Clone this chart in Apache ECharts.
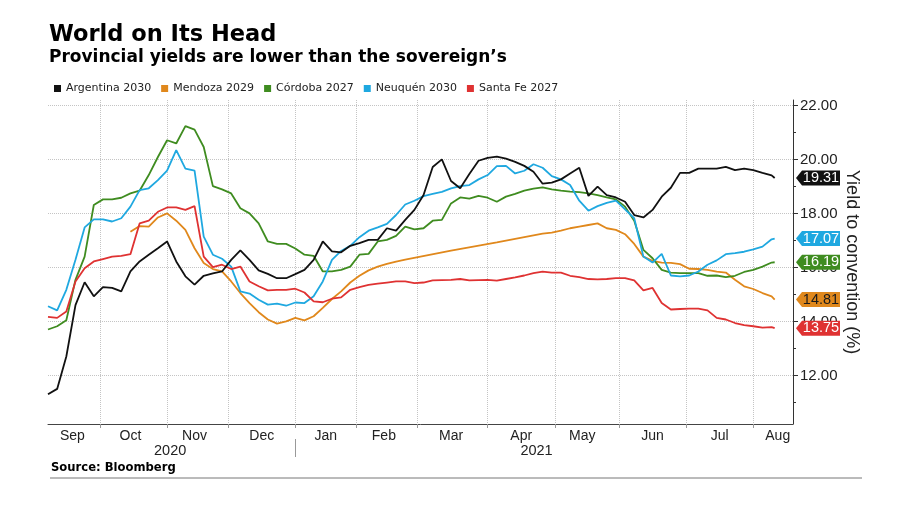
<!DOCTYPE html>
<html><head><meta charset="utf-8">
<script src="https://cdn.jsdelivr.net/npm/echarts@6/dist/echarts.min.js"></script>
<style>html,body{margin:0;padding:0;background:#fff}#chart{width:900px;height:505px}</style>
</head><body><div id="chart"></div>
<script>
// ---- axis domain: trading days ----
const firstDay = '2020-09-08';
const lastDay = '2021-08-19';
const holidays = ['2020-11-26', '2020-12-25', '2021-01-01'];

// ---- labels ----
const seriesNames = ['Argentina 2030', 'Mendoza 2029', 'Córdoba 2027', 'Neuquén 2030', 'Santa Fe 2027'];
const seriesColors = ['#111111', '#e0881c', '#3f8c20', '#1fa8e0', '#df3232'];
const tagTextColors = ['#ffffff', '#1a1a1a', '#ffffff', '#ffffff', '#ffffff'];
const monthLabelDates = ['2020-09-18','2020-10-15','2020-11-13','2020-12-16','2021-01-18','2021-02-12','2021-03-16','2021-04-16','2021-05-14','2021-06-16','2021-07-16','2021-08-12'];
const monthLabels = ['Sep','Oct','Nov','Dec','Jan','Feb','Mar','Apr','May','Jun','Jul','Aug'];
const yearLabelDates = ['2020-11-03', '2021-04-23'];
const yearLabels = ['2020', '2021'];
const yearBreakDate = '2021-01-04';
const yTickValues = [12, 14, 16, 18, 20, 22];
const yMinorTickValues = [11, 13, 15, 17, 19, 21];

// ---- sampled observations ----
const sampleDates = [
'2020-09-08','2020-09-11','2020-09-16','2020-09-21','2020-09-24','2020-09-29','2020-10-02','2020-10-07','2020-10-12','2020-10-15',
'2020-10-20','2020-10-23','2020-10-28','2020-11-02','2020-11-05','2020-11-10','2020-11-13','2020-11-18','2020-11-23','2020-11-27',
'2020-12-02','2020-12-07','2020-12-10','2020-12-15','2020-12-18','2020-12-23','2020-12-29','2021-01-04','2021-01-07','2021-01-12',
'2021-01-15','2021-01-20','2021-01-25','2021-01-28','2021-02-02','2021-02-05','2021-02-10','2021-02-15','2021-02-18','2021-02-23',
'2021-02-26','2021-03-03','2021-03-08','2021-03-11','2021-03-16','2021-03-19','2021-03-24','2021-03-29','2021-04-01','2021-04-06',
'2021-04-09','2021-04-14','2021-04-19','2021-04-22','2021-04-27','2021-04-30','2021-05-05','2021-05-10','2021-05-13','2021-05-18',
'2021-05-21','2021-05-26','2021-05-31','2021-06-03','2021-06-08','2021-06-11','2021-06-16','2021-06-21','2021-06-24','2021-06-29',
'2021-07-02','2021-07-07','2021-07-12','2021-07-15','2021-07-20','2021-07-23','2021-07-28','2021-08-02','2021-08-05','2021-08-10',
'2021-08-11'];

const argentina2030 = [
11.3, 11.5, 12.7, 14.6, 15.45, 14.93, 15.27, 15.24, 15.11, 15.85,
16.22, 16.47, 16.71, 16.96, 16.22, 15.67, 15.36, 15.69, 15.78, 15.85,
16.28, 16.63, 16.28, 15.89, 15.76, 15.6, 15.6, 15.75, 15.91, 16.28,
16.96, 16.59, 16.56, 16.8, 16.9, 17.02, 17.02, 17.45, 17.36, 17.76,
18.13, 18.68, 19.72, 20.0, 19.2, 18.93, 19.46, 19.95, 20.06, 20.1,
20.03, 19.91, 19.76, 19.54, 19.1, 19.14, 19.26, 19.48, 19.69, 18.65,
18.99, 18.68, 18.59, 18.43, 17.94, 17.85, 18.13, 18.62, 18.95, 19.5,
19.5, 19.66, 19.66, 19.66, 19.72, 19.6, 19.66, 19.6, 19.5, 19.41,
19.31];

const mendoza2029 = [
null, null, null, null, null, null, null, null, null, 17.32,
17.53, 17.51, 17.85, 18.0, 17.73, 17.39, 16.71, 16.16, 15.94, 15.85,
15.48, 15.05, 14.68, 14.34, 14.07, 13.92, 14.0, 14.13, 14.04, 14.19,
14.5, 14.83, 15.11, 15.44, 15.69, 15.89, 16.03, 16.13, 16.21, 16.29,
null, null, null, null, 16.62, null, null, null, null, 16.93,
null, null, null, null, 17.25, 17.29, 17.36, 17.45, 17.51, 17.57,
17.63, 17.45, 17.39, 17.23, 16.87, 16.4, 16.24, 16.18, 16.17, 16.12,
15.95, 15.94, 15.91, 15.84, 15.81, 15.54, 15.3, 15.2, 15.05, 14.93,
14.81];

const cordoba2027 = [
13.7, 13.82, 14.04, 15.54, 16.4, 18.31, 18.52, 18.52, 18.58, 18.74,
18.84, 19.42, 20.09, 20.71, 20.59, 21.23, 21.1, 20.46, 19.01, 18.89,
18.74, 18.19, 18.0, 17.63, 16.96, 16.87, 16.87, 16.7, 16.47, 16.43,
15.85, 15.85, 15.91, 16.03, 16.47, 16.5, 16.96, 17.02, 17.17, 17.51,
17.41, 17.45, 17.73, 17.76, 18.37, 18.59, 18.55, 18.65, 18.58, 18.43,
18.62, 18.72, 18.84, 18.92, 18.96, 18.89, 18.84, 18.81, 18.79, 18.74,
18.68, 18.59, 18.52, 18.25, 17.73, 16.65, 16.34, 15.91, 15.81, 15.79,
15.79, 15.79, 15.69, 15.7, 15.64, 15.69, 15.83, 15.91, 16.03, 16.18,
16.19];

const neuquen2030 = [
14.56, 14.41, 15.17, 16.28, 17.48, 17.78, 17.78, 17.7, 17.82, 18.25,
18.86, 18.93, 19.23, 19.58, 20.34, 19.66, 19.58, 17.14, 16.47, 16.32,
16.03, 15.11, 15.03, 14.8, 14.62, 14.66, 14.58, 14.7, 14.68, 14.93,
15.48, 16.28, 16.61, 16.8, 17.12, 17.36, 17.48, 17.61, 17.94, 18.33,
18.47, 18.64, 18.72, 18.8, 18.93, 19.01, 19.05, 19.26, 19.42, 19.75,
19.76, 19.48, 19.58, 19.82, 19.69, 19.38, 19.26, 19.05, 18.47, 18.1,
18.27, 18.39, 18.47, 18.15, 17.82, 16.4, 16.18, 16.5, 15.7, 15.67,
15.7, 15.85, 16.1, 16.26, 16.49, 16.53, 16.58, 16.67, 16.77, 17.04,
17.07];

const santaFe2027 = [
14.17, 14.13, 14.37, 15.48, 15.97, 16.22, 16.31, 16.4, 16.43, 16.49,
17.63, 17.73, 18.06, 18.22, 18.22, 18.13, 18.27, 16.4, 16.01, 16.1,
15.94, 16.03, 15.48, 15.3, 15.15, 15.17, 15.17, 15.21, 15.07, 14.74,
14.71, 14.84, 14.89, 15.17, 15.27, 15.35, 15.4, 15.44, 15.48, 15.48,
15.42, 15.44, 15.52, 15.53, 15.54, 15.57, 15.52, 15.53, 15.54, 15.51,
15.57, 15.63, 15.7, 15.79, 15.84, 15.81, 15.81, 15.69, 15.64, 15.57,
15.56, 15.57, 15.6, 15.6, 15.52, 15.15, 15.24, 14.68, 14.44, 14.46,
14.47, 14.47, 14.41, 14.13, 14.07, 13.94, 13.86, 13.82, 13.77, 13.79,
13.75];

const allValues = [argentina2030, mendoza2029, cordoba2027, neuquen2030, santaFe2027];

// ---- build category axis ----
function buildTradingDays(start, end, skip) {
  const out = [];
  const d = new Date(start + 'T00:00:00Z');
  const e = new Date(end + 'T00:00:00Z');
  while (d <= e) {
    const wd = d.getUTCDay();
    const s = d.toISOString().slice(0, 10);
    if (wd !== 0 && wd !== 6 && skip.indexOf(s) < 0) out.push(s);
    d.setUTCDate(d.getUTCDate() + 1);
  }
  return out;
}
const tradingDays = buildTradingDays(firstDay, lastDay, holidays);
const monthStarts = {};
for (let i = 1; i < tradingDays.length; i++) {
  if (tradingDays[i].slice(0, 7) !== tradingDays[i - 1].slice(0, 7)) monthStarts[tradingDays[i]] = true;
}
const lastIdx = tradingDays.length - 1;

const AXIS_FONT = 'Liberation Sans, Arial, sans-serif';
const BOLD_FONT = 'DejaVu Sans, Verdana, sans-serif';

const series = seriesNames.map((name, k) => {
  const vals = allValues[k];
  const data = [];
  sampleDates.forEach((d, i) => {
    if (vals[i] !== null) data.push([tradingDays.indexOf(d), vals[i]]);
  });
  const last = vals[vals.length - 1];
  return {
    name, type: 'line', data, symbol: 'none', smooth: false,
    z: k === 0 ? 4 : 3,
    lineStyle: { color: seriesColors[k], width: 1.8 },
    itemStyle: { color: seriesColors[k] },
    markPoint: {
      symbol: 'path://M0,7.5 L6,0 L44,0 L44,15 L6,15 Z',
      symbolSize: [44, 15],
      symbolKeepAspect: false,
      symbolOffset: [25, 0],
      itemStyle: { color: seriesColors[k] },
      label: {
        show: true, position: 'inside', offset: [3, 0],
        color: tagTextColors[k], fontSize: 14.5, fontFamily: AXIS_FONT,
        formatter: p => Number(p.value).toFixed(2)
      },
      data: [{ coord: [lastIdx, last], value: last }]
    }
  };
});

const chart = echarts.init(document.getElementById('chart'), null, { renderer: 'canvas' });
chart.setOption({
  animation: false,
  backgroundColor: '#ffffff',
  title: [
    { text: 'World on Its Head', left: 49, top: 24, padding: 0,
      textStyle: { fontFamily: BOLD_FONT, fontWeight: 'bold', fontSize: 22.5, color: '#000' } },
    { text: 'Provincial yields are lower than the sovereign’s', left: 49, top: 49, padding: 0,
      textStyle: { fontFamily: BOLD_FONT, fontWeight: 'bold', fontSize: 17, color: '#000' } },
    { text: 'Source: Bloomberg', left: 51, top: 462, padding: 0,
      textStyle: { fontFamily: BOLD_FONT, fontWeight: 'bold', fontSize: 11.6, color: '#000' } }
  ],
  legend: {
    data: seriesNames.map((n, k) => ({ name: n, itemStyle: { color: seriesColors[k] } })),
    left: 54, top: 83, padding: 0,
    icon: 'rect', itemWidth: 7, itemHeight: 7, itemGap: 10,
    textStyle: { fontFamily: 'DejaVu Sans, sans-serif', fontSize: 11, color: '#222' }
  },
  grid: { left: 48, right: 107, top: 100, bottom: 81, containLabel: false },
  xAxis: [{
    type: 'category', data: tradingDays, boundaryGap: false,
    axisLine: { show: true, lineStyle: { color: '#444', width: 1 } },
    axisTick: { show: true, length: 4, lineStyle: { color: '#999' },
      interval: (i, v) => !!monthStarts[v] },
    splitLine: { show: true, lineStyle: { type: 'dotted', color: '#c4c4c4', width: 1 },
      interval: (i, v) => !!monthStarts[v] },
    axisLabel: { show: true, margin: 5, fontFamily: AXIS_FONT, fontSize: 14, color: '#222',
      interval: (i, v) => monthLabelDates.indexOf(v) >= 0,
      formatter: v => monthLabels[monthLabelDates.indexOf(v)] || '' }
  }, {
    type: 'category', data: tradingDays, boundaryGap: false, position: 'bottom', offset: 15,
    axisLine: { show: false },
    axisTick: { show: true, length: 18, lineStyle: { color: '#999' },
      interval: (i, v) => v === yearBreakDate },
    splitLine: { show: false },
    axisLabel: { show: true, margin: 4, fontFamily: AXIS_FONT, fontSize: 14.5, color: '#222',
      interval: (i, v) => yearLabelDates.indexOf(v) >= 0,
      formatter: v => yearLabels[yearLabelDates.indexOf(v)] || '' }
  }],
  yAxis: [{
    type: 'value', position: 'right', min: 10.2, max: 22.2,
    axisLine: { show: true, lineStyle: { color: '#333', width: 1 } },
    axisTick: { show: true, inside: false, length: 5, customValues: yTickValues, lineStyle: { color: '#333' } },
    axisLabel: { show: true, customValues: yTickValues, margin: 7, fontFamily: AXIS_FONT, fontSize: 15, color: '#222',
      formatter: v => Number(v).toFixed(2) },
    splitLine: { show: true, lineStyle: { type: 'dotted', color: '#c4c4c4', width: 1 } },
    name: 'Yield to convention (%)', nameLocation: 'middle', nameRotate: -90, nameGap: 50,
    nameMoveOverlap: false,
    nameTextStyle: { fontFamily: AXIS_FONT, fontSize: 18, color: '#222' }
  }, {
    type: 'value', position: 'right', min: 10.2, max: 22.2,
    axisLine: { show: false },
    axisTick: { show: true, length: 3, customValues: yMinorTickValues, lineStyle: { color: '#333' } },
    axisLabel: { show: false },
    splitLine: { show: false }
  }],
  graphic: [{
    type: 'line', shape: { x1: 50, y1: 478, x2: 862, y2: 478 },
    style: { stroke: '#777', lineWidth: 1 }
  }],
  series
});
</script>
</body></html>
